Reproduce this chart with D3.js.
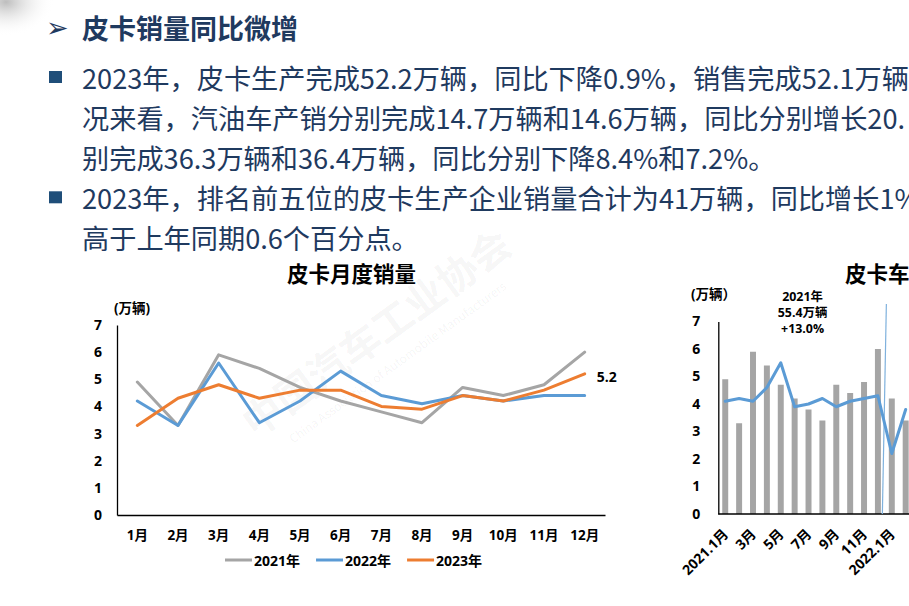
<!DOCTYPE html>
<html><head><meta charset="utf-8">
<script src="https://cdn.jsdelivr.net/npm/d3@7"></script>
<style>
html,body{margin:0;padding:0;background:#fff;overflow:hidden}
svg{display:block}
</style></head><body>
<svg id="c" width="909" height="606"></svg>
<script>
// ---------------- data ----------------
const headline = "皮卡销量同比微增";
const bulletLines = [
  "2023年，皮卡生产完成52.2万辆，同比下降0.9%，销售完成52.1万辆",
  "况来看，汽油车产销分别完成14.7万辆和14.6万辆，同比分别增长20.",
  "别完成36.3万辆和36.4万辆，同比分别下降8.4%和7.2%。",
  "2023年，排名前五位的皮卡生产企业销量合计为41万辆，同比增长1%",
  "高于上年同期0.6个百分点。"
];
const bulletFlags = [true, false, false, true, false];

const leftTitle = "皮卡月度销量";
const unitLabel = "(万辆)";
const months = ["1月","2月","3月","4月","5月","6月","7月","8月","9月","10月","11月","12月"];
const seriesNames = ["2021年","2022年","2023年"];
const sales2021 = [4.9,3.3,5.9,5.4,4.7,4.2,3.8,3.4,4.7,4.4,4.8,6.0];
const sales2022 = [4.2,3.3,5.6,3.4,4.2,5.3,4.4,4.1,4.4,4.2,4.4,4.4];
const sales2023 = [3.3,4.3,4.8,4.3,4.6,4.6,4.0,3.9,4.4,4.2,4.6,5.2];
const yTicks = [0,1,2,3,4,5,6,7];
const seriesColors = ["#a5a5a5","#5b9bd5","#ed7d31"];

const rightTitle = "皮卡车";
const rightUnit = "(万辆）";
const rightPeriods = ["2021.1","2021.2","2021.3","2021.4","2021.5","2021.6","2021.7","2021.8","2021.9","2021.10","2021.11","2021.12","2022.1","2022.2"];
const rightLabels = ["2021.1月","","3月","","5月","","7月","","9月","","11月","","2022.1月",""];
const rightBars = [4.9,3.3,5.9,5.4,4.7,4.2,3.8,3.4,4.7,4.4,4.8,6.0,4.2,3.4];
const rightLine = [4.1,4.2,4.1,4.6,5.5,3.9,4.0,4.2,3.9,4.1,4.2,4.3,2.2,3.8];
const annotLines = ["2021年","55.4万辆","+13.0%"];

// ---------------- drawing ----------------
const svg = d3.select("#c");
const NAVY = "#1f3a5f";
const CJK = "'Noto Sans CJK SC','Noto Sans',sans-serif";
const NUM = "'Open Sans','Noto Sans CJK SC',sans-serif";

const defs = svg.append("defs");
const rg = defs.append("radialGradient").attr("id","blob");
rg.append("stop").attr("offset","0%").attr("stop-color","#bdbdbd");
rg.append("stop").attr("offset","100%").attr("stop-color","#ffffff").attr("stop-opacity",0);
svg.append("ellipse").attr("cx",6).attr("cy",2).attr("rx",48).attr("ry",34).attr("fill","url(#blob)");

// faint watermark (kept inside the page)
const wm = svg.append("g").attr("font-family",CJK).attr("font-weight",700).attr("fill","#000").attr("fill-opacity",0.05);
const wmSpots = [[385,345,-36]];
wmSpots.forEach(([x,y,a])=>{
  const g = wm.append("g").attr("transform",`translate(${x},${y}) rotate(${a})`);
  g.append("text").attr("text-anchor","middle").attr("font-size",40).text("中国汽车工业协会");
  g.append("text").attr("text-anchor","middle").attr("y",26).attr("font-size",12).attr("font-weight",400).text("China Association of Automobile Manufacturers");
});

// header
svg.append("text").attr("x",46).attr("y",27).attr("dominant-baseline","central")
  .attr("font-family","'DejaVu Sans'").attr("font-size",27).attr("fill",NAVY).text("➢");
svg.append("text").attr("x",82).attr("y",27).attr("dominant-baseline","central")
  .attr("font-family",CJK).attr("font-weight",700).attr("font-size",27).attr("fill",NAVY).text(headline);

// bullet text
const tg = svg.append("g");
bulletLines.forEach((t,i)=>{
  const cy = 77 + 40.1*i;
  if (bulletFlags[i]) tg.append("rect").attr("x",49).attr("y",cy-6).attr("width",13).attr("height",12).attr("fill","#1f4e79");
  tg.append("text").attr("x",82).attr("y",cy).attr("dominant-baseline","central")
    .attr("font-family",CJK).attr("font-size",27.2).attr("fill",NAVY).text(t);
});

function styleText(sel, size){
  sel.attr("font-family",NUM).attr("font-size",size).attr("font-weight",700).attr("fill","#000");
}

// ---------- left chart ----------
const xL = d3.scaleBand().domain(months).range([117,605]);
const yL = d3.scaleLinear().domain([0,7]).range([515,325]);
const gL = svg.append("g");
gL.append("text").attr("x",351.5).attr("y",272).attr("text-anchor","middle").attr("dominant-baseline","central")
  .attr("font-family",CJK).attr("font-weight",700).attr("font-size",21.5).attr("fill","#000").text(leftTitle);
gL.append("text").attr("x",114).attr("y",308).attr("dominant-baseline","central").call(styleText,13.5).text(unitLabel);

gL.append("g").attr("transform","translate(117,0)")
  .call(d3.axisLeft(yL).tickValues(yTicks).tickSize(0).tickSizeOuter(0).tickPadding(15).tickFormat(d3.format("d")))
  .call(g=>g.select(".domain").attr("stroke","#000").attr("stroke-width",1.3))
  .call(g=>g.selectAll("text").call(styleText,14));
gL.append("g").attr("transform","translate(0,515)")
  .call(d3.axisBottom(xL).tickSize(0).tickSizeOuter(0).tickPadding(15))
  .call(g=>g.select(".domain").attr("stroke","#000").attr("stroke-width",1.3))
  .call(g=>g.selectAll("text").call(styleText,13.5));

const seriesL = [sales2021, sales2022, sales2023];
const lineL = d3.line().x((d,i)=>xL(months[i])+xL.bandwidth()/2).y(d=>yL(d));
seriesL.forEach((s,k)=>{
  gL.append("path").attr("d",lineL(s)).attr("fill","none").attr("stroke",seriesColors[k])
    .attr("stroke-width",3).attr("stroke-linejoin","round").attr("stroke-linecap","round");
});
const last = sales2023[sales2023.length-1];
gL.append("text").attr("x",xL(months[11])+xL.bandwidth()/2+12).attr("y",yL(last)+3)
  .attr("dominant-baseline","central").call(styleText,14).text(d3.format(".1f")(last));

// legend
let lx = 225;
seriesNames.forEach((n,k)=>{
  gL.append("line").attr("x1",lx).attr("x2",lx+27).attr("y1",560).attr("y2",560)
    .attr("stroke",seriesColors[k]).attr("stroke-width",3);
  const t = gL.append("text").attr("x",lx+29).attr("y",560).attr("dominant-baseline","central").call(styleText,14).text(n);
  lx += 29 + t.node().getComputedTextLength() + 16;
});

// ---------- right chart ----------
const step = 13.88;
const xR = d3.scaleBand().domain(rightPeriods).range([718.3, 718.3+step*rightPeriods.length]).paddingInner(0.57).paddingOuter(0.285);
const yR = d3.scaleLinear().domain([0,7]).range([514,321.5]);
const gR = svg.append("g");
gR.append("text").attr("x",845).attr("y",272).attr("dominant-baseline","central")
  .attr("font-family",CJK).attr("font-weight",700).attr("font-size",21.5).attr("fill","#000").text(rightTitle);
gR.append("text").attr("x",691).attr("y",294).attr("dominant-baseline","central").call(styleText,13.5).text(rightUnit);

gR.selectAll("rect.bar").data(rightBars).join("rect").attr("class","bar")
  .attr("x",(d,i)=>xR(rightPeriods[i])).attr("width",xR.bandwidth())
  .attr("y",d=>yR(d)).attr("height",d=>yR(0)-yR(d)).attr("fill","#a5a5a5");

gR.append("g").attr("transform","translate(718.3,0)")
  .call(d3.axisLeft(yR).tickValues(yTicks).tickSize(0).tickSizeOuter(0).tickPadding(18).tickFormat(d3.format("d")))
  .call(g=>g.select(".domain").attr("stroke","#000").attr("stroke-width",1.3))
  .call(g=>g.selectAll("text").call(styleText,14));
gR.append("line").attr("x1",718.3).attr("x2",909).attr("y1",yR(0)).attr("y2",yR(0)).attr("stroke","#000").attr("stroke-width",1.3);

const sepX = xR("2022.1") - (xR.step()-xR.bandwidth())/2;
gR.append("line").attr("x1",sepX+1.5).attr("x2",sepX-2.5).attr("y1",304).attr("y2",yR(0))
  .attr("stroke","#7fb1dd").attr("stroke-width",1.2);

const lineR = d3.line().x((d,i)=>xR(rightPeriods[i])+xR.bandwidth()/2).y(d=>yR(d));
gR.append("path").attr("d",lineR(rightLine)).attr("fill","none").attr("stroke","#5b9bd5")
  .attr("stroke-width",3).attr("stroke-linejoin","round").attr("stroke-linecap","round");

rightLabels.forEach((l,i)=>{
  if(!l) return;
  const cx = xR(rightPeriods[i])+xR.bandwidth()/2;
  gR.append("text").attr("text-anchor","end")
    .attr("transform",`translate(${cx+4},535) rotate(-45)`).call(styleText,14).text(l);
});

const annX = (xR(rightPeriods[0]) + xR(rightPeriods[11]) + xR.bandwidth())/2 + 1;
annotLines.forEach((t,i)=>{
  gR.append("text").attr("x",annX).attr("y",296.5+15.8*i).attr("text-anchor","middle").attr("dominant-baseline","central")
    .call(styleText,12.4).text(t);
});
</script>
</body></html>
